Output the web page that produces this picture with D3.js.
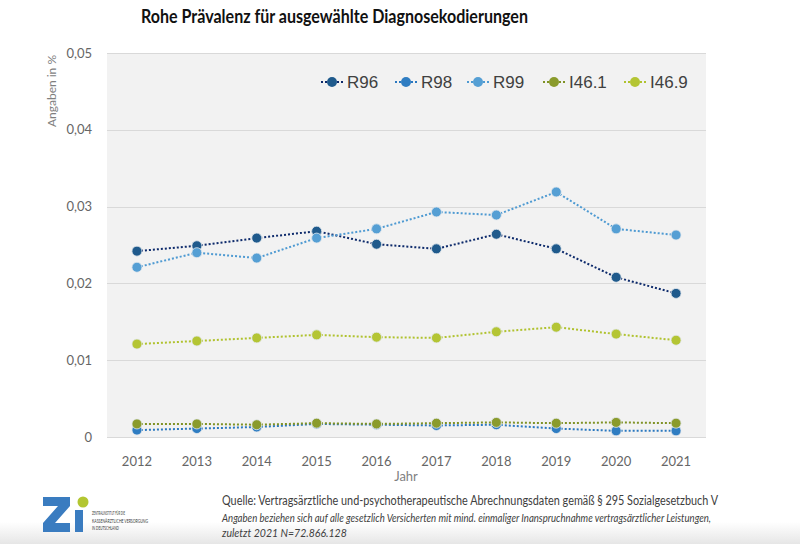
<!DOCTYPE html>
<html><head><meta charset="utf-8">
<script src="https://cdn.jsdelivr.net/npm/d3@7"></script>
<style>body{margin:0;background:#fff}svg{display:block}</style>
</head><body>
<svg id="c" width="800" height="544"></svg>
<script>
const years = ["2012","2013","2014","2015","2016","2017","2018","2019","2020","2021"];
const seriesNames = ["R96","R98","R99","I46.1","I46.9"];
const R96  = [0.0242,0.0249,0.0259,0.0268,0.0251,0.0245,0.0264,0.0245,0.0208,0.0187];
const R98  = [0.0009,0.0011,0.0013,0.0017,0.0016,0.0015,0.0016,0.0011,0.0008,0.0008];
const R99  = [0.0221,0.0240,0.0233,0.0259,0.0271,0.0293,0.0289,0.0319,0.0271,0.0263];
const I461 = [0.0017,0.0017,0.0016,0.0018,0.0017,0.0018,0.0019,0.0018,0.0019,0.0018];
const I469 = [0.0121,0.0125,0.0129,0.0133,0.0130,0.0129,0.0137,0.0143,0.0134,0.0126];
const yTicks = [0,0.01,0.02,0.03,0.04,0.05];
const yTickLabels = ["0","0,01","0,02","0,03","0,04","0,05"];

const markerColors = ["#1f5a8c","#2f7dc2","#559fd4","#8a9b2c","#b4c534"];
const lineColors   = ["#0d2a6b","#2a78c0","#4e9ad2","#7f9225","#b0c22e"];
const data = [R96,R98,R99,I461,I469];

const svg = d3.select("#c");
const L=107,R=706,T=53,B=437;
const x = d3.scaleBand().domain(years).range([L,R]);
const y = d3.scaleLinear().domain([0,0.05]).range([B,T]);

const defs = svg.append("defs");
const g = defs.append("linearGradient").attr("id","fg").attr("x1",0).attr("x2",0).attr("y1",0).attr("y2",1);
g.append("stop").attr("offset","0").attr("stop-color","#fff");
g.append("stop").attr("offset","1").attr("stop-color","#e6e6e6");
svg.append("rect").attr("x",0).attr("y",522).attr("width",800).attr("height",22).attr("fill","url(#fg)");

svg.append("rect").attr("x",L).attr("y",T).attr("width",R-L).attr("height",B-T).attr("fill","#f2f2f2");

svg.append("g").selectAll("line").data(yTicks).join("line")
  .attr("x1",L).attr("x2",R).attr("y1",d=>Math.round(y(d))+0.5).attr("y2",d=>Math.round(y(d))+0.5)
  .attr("stroke","#d9d9d9").attr("stroke-width",1);

const ya = svg.append("g").attr("transform",`translate(${L-12},0)`)
  .call(d3.axisLeft(y).tickValues(yTicks).tickFormat((d,i)=>yTickLabels[i]).tickSize(0));
ya.select(".domain").remove();
ya.selectAll("text").attr("font-family","Lato").attr("font-size",13).attr("fill","#666");

const xa = svg.append("g").attr("transform",`translate(0,${B+17})`)
  .call(d3.axisBottom(x).tickSize(0));
xa.select(".domain").remove();
xa.selectAll("text").attr("font-family","Lato").attr("font-size",13).attr("fill","#666");

const line = d3.line().x((d,i)=>x(years[i])+x.bandwidth()/2).y(d=>y(d));
data.forEach((s,k)=>{
  svg.append("path").datum(s).attr("d",line).attr("fill","none")
    .attr("stroke",lineColors[k]).attr("stroke-width",2).attr("stroke-dasharray","2,2");
});
data.forEach((s,k)=>{
  svg.append("g").selectAll("circle").data(s).join("circle")
    .attr("cx",(d,i)=>x(years[i])+x.bandwidth()/2).attr("cy",d=>y(d)).attr("r",5)
    .attr("fill",markerColors[k]).attr("stroke","#e3e8ee").attr("stroke-width",0.8);
});

const legX = [321,395,467,543,624];
seriesNames.forEach((n,k)=>{
  const lg = svg.append("g").attr("transform",`translate(${legX[k]},82)`);
  lg.append("line").attr("x1",0).attr("x2",23).attr("y1",0).attr("y2",0)
    .attr("stroke",lineColors[k]).attr("stroke-width",2).attr("stroke-dasharray","2,2");
  lg.append("circle").attr("cx",11).attr("cy",0).attr("r",5).attr("fill",markerColors[k]);
  lg.append("text").attr("x",26).attr("y",6).attr("font-family","Liberation Sans, Arial")
    .attr("font-size",17).attr("fill","#404040").text(n);
});

svg.append("text").attr("x",141).attr("y",23)
  .attr("font-family","Lato").attr("font-weight","bold").attr("font-size",18)
  .attr("textLength",387).attr("lengthAdjust","spacingAndGlyphs")
  .attr("fill","#111").text("Rohe Prävalenz für ausgewählte Diagnosekodierungen");
svg.append("text").attr("transform","translate(56,55) rotate(-90)").attr("text-anchor","end")
  .attr("font-family","Lato").attr("font-size",12).attr("fill","#7f7f7f").text("Angaben in %");
svg.append("text").attr("x",406).attr("y",481).attr("text-anchor","middle")
  .attr("font-family","Lato").attr("font-size",13).attr("fill","#7f7f7f").text("Jahr");

svg.append("text").attr("x",222).attr("y",505).attr("font-family","Lato").attr("font-size",12.5)
  .attr("textLength",496).attr("lengthAdjust","spacingAndGlyphs")
  .attr("fill","#404040").text("Quelle: Vertragsärztliche und-psychotherapeutische Abrechnungsdaten gemäß § 295 Sozialgesetzbuch V");
svg.append("text").attr("x",222).attr("y",522).attr("font-family","Lato").attr("font-style","italic").attr("font-size",10.5)
  .attr("textLength",489).attr("lengthAdjust","spacingAndGlyphs")
  .attr("fill","#404040").text("Angaben beziehen sich auf alle gesetzlich Versicherten mit mind. einmaliger Inanspruchnahme vertragsärztlicher Leistungen,");
svg.append("text").attr("x",222).attr("y",537).attr("font-family","Lato").attr("font-style","italic").attr("font-size",10.5)
  .attr("fill","#404040").text("zuletzt 2021 N=72.866.128");

const lg = svg.append("g");
lg.append("path").attr("d","M43,497 L70,497 L70,506 L55,523 L70,523 L70,532 L43,532 L43,523 L58,506 L43,506 Z").attr("fill","#3a7cc0");
lg.append("rect").attr("x",75).attr("y",510).attr("width",8).attr("height",22).attr("fill","#3a7cc0");
lg.append("circle").attr("cx",83).attr("cy",502).attr("r",5.5).attr("fill","#b3c631");
const logoLines = ["ZENTRALINSTITUT FÜR DIE","KASSENÄRZTLICHE VERSORGUNG","IN DEUTSCHLAND"];
const logoW = [33,56,27];
logoLines.forEach((t,i)=>{
  lg.append("text").attr("x",92).attr("y",515+i*7.5).attr("font-family","Lato").attr("font-size",5.5)
    .attr("textLength",logoW[i]).attr("lengthAdjust","spacingAndGlyphs")
    .attr("fill","#333").text(t);
});
</script>
</body></html>
